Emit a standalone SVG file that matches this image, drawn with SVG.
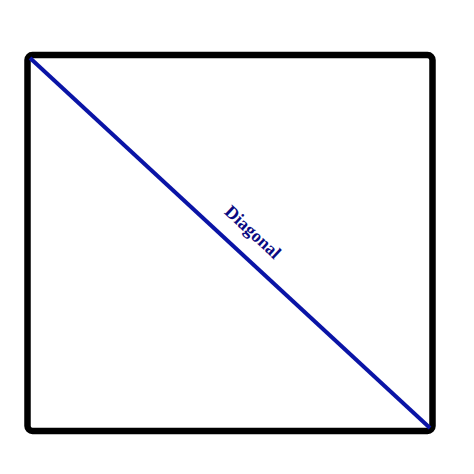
<svg xmlns="http://www.w3.org/2000/svg" width="474" height="474" viewBox="0 0 474 474">
<style>
.box{fill:#ffffff;stroke:#000000;stroke-width:6.5}
.diag{stroke:#0a14a6;stroke-width:4}
.lbl{font-family:"Liberation Serif",serif;font-weight:bold;font-size:18px;fill:#0a0a82}
</style>
<rect width="474" height="474" fill="#ffffff"/>
<g id="square">
<rect class="box" x="27.5" y="55" width="405" height="376" rx="5" ry="5"/>
</g>
<g id="connectors">
<line class="diag" x1="30" y1="58" x2="430" y2="428"/>
<text class="lbl" transform="translate(253,232) rotate(42.8)" x="0" y="6" text-anchor="middle">Diagonal</text>
</g>
</svg>
